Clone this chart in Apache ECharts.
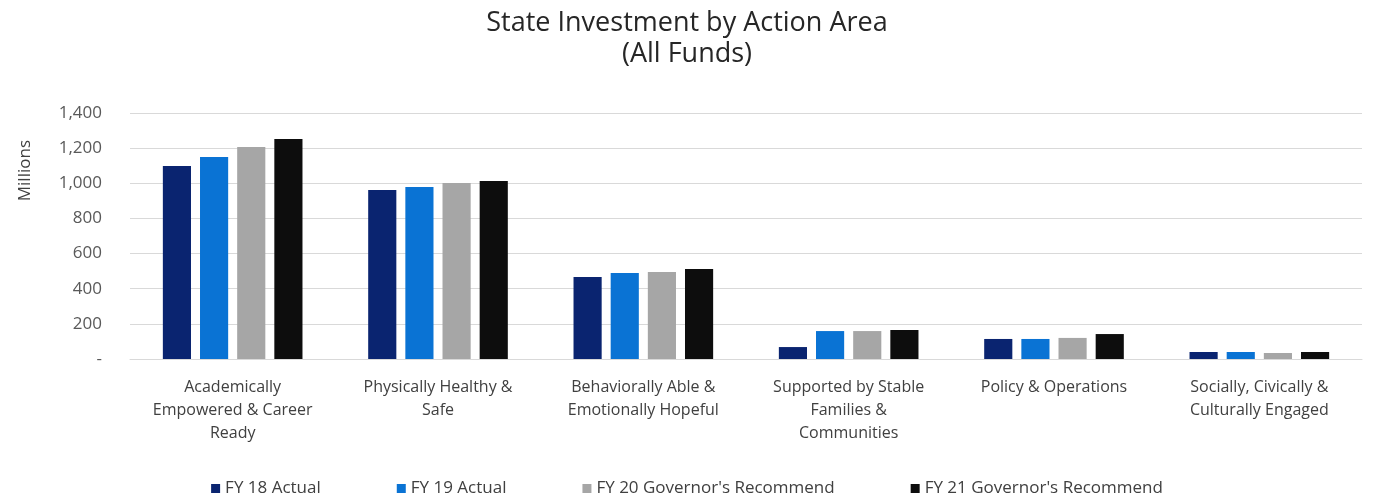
<!DOCTYPE html>
<html><head><meta charset="utf-8">
<script src="https://cdn.jsdelivr.net/npm/echarts@6/dist/echarts.min.js"></script>
<style>html,body{margin:0;padding:0;background:#fff}#c{width:1374px;height:503px}</style>
</head><body><div id="c"></div>
<script>
const categories = ["Academically\nEmpowered & Career\nReady","Physically Healthy &\nSafe","Behaviorally Able &\nEmotionally Hopeful","Supported by Stable\nFamilies &\nCommunities","Policy & Operations","Socially, Civically &\nCulturally Engaged"];
const seriesNames = ["FY 18 Actual","FY 19 Actual","FY 20 Governor's Recommend","FY 21 Governor's Recommend"];
const fy18 = [1098, 962, 467, 68, 114, 40];
const fy19 = [1150, 979, 489, 159, 114, 40];
const fy20 = [1206, 1002, 495, 159, 120, 34];
const fy21 = [1252, 1013, 512, 165, 142, 40];
const colors = ["#0a2470","#0a73d4","#a6a6a6","#0d0d0d"];
const font = "'Open Sans', 'Noto Sans', sans-serif";
const chart = echarts.init(document.getElementById('c'), null, {renderer:'canvas'});
const data = [fy18, fy19, fy20, fy21];
chart.setOption({
  animation:false,
  color: colors,
  title:{text:"State Investment by Action Area\n(All Funds)", left:'center', top:3,
    textStyle:{fontFamily:font, fontSize:27, fontWeight:'normal', color:'#262626', lineHeight:31}},
  graphic:[{type:'text', left:17, top:140, rotation:Math.PI/2,
    style:{text:'Millions', fontFamily:font, fontSize:17, fill:'#404040'}}],
  grid:{left:130, right:12, top:113, bottom:144},
  legend:{bottom:1, left:'center', itemWidth:9, itemHeight:9, itemGap:76, icon:'rect',
    textStyle:{fontFamily:font, fontSize:17, color:'#404040'}, data:seriesNames},
  xAxis:{type:'category', data:categories,
    axisLine:{show:true, lineStyle:{color:'#d9d9d9'}}, axisTick:{show:false},
    axisLabel:{fontFamily:font, fontSize:16, color:'#404040', lineHeight:23, interval:0, margin:17}},
  yAxis:{type:'value', min:0, max:1400, interval:200,
    axisLine:{show:false}, axisTick:{show:false},
    axisLabel:{fontFamily:font, fontSize:17, color:'#595959', margin:28,
      formatter:v=> v===0 ? '-' : v.toLocaleString('en-US')},
    splitLine:{lineStyle:{color:'#d9d9d9'}}},
  series: seriesNames.map((n,i)=>({name:n, type:'bar', data:data[i], barGap:'32%', barCategoryGap:'32%'}))
});
</script></body></html>
